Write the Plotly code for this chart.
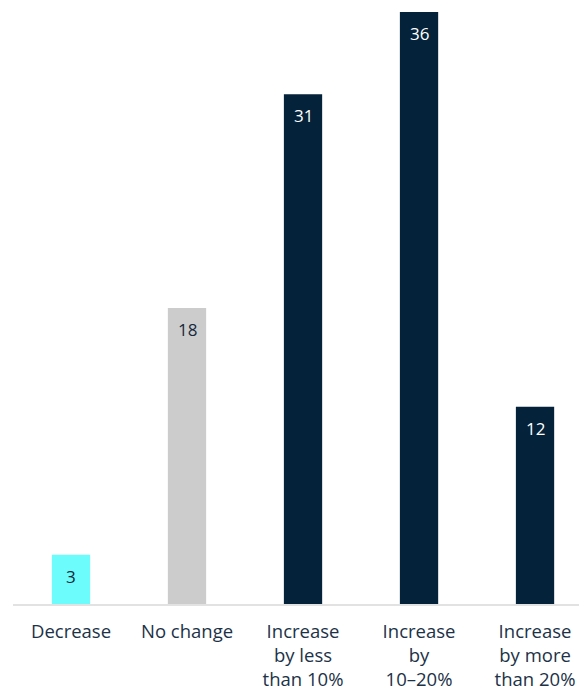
import plotly.graph_objects as go

categories = ["Decrease", "No change", "Increase<br>by less<br>than 10%",
              "Increase<br>by<br>10–20%", "Increase<br>by more<br>than 20%"]
values = [3, 18, 31, 36, 12]
bar_colors = ["#6cfcfc", "#cccccc", "#04223a", "#04223a", "#04223a"]
label_colors = ["#16293d", "#16293d", "#ffffff", "#ffffff", "#ffffff"]

x_pos = list(range(len(categories)))

fig = go.Figure(
    go.Bar(
        x=x_pos,
        y=values,
        width=0.33,
        marker=dict(color=bar_colors, line=dict(width=0)),
        hoverinfo="skip",
    )
)

# value labels sit just inside the top of each bar
for xi, v, c in zip(x_pos, values, label_colors):
    fig.add_annotation(
        x=xi, y=v, text=str(v), showarrow=False,
        yanchor="top", yshift=-8,
        font=dict(size=17, family="Open Sans", color=c),
    )

fig.update_layout(
    width=579,
    height=692,
    margin=dict(l=13, r=0, t=12, b=88),
    paper_bgcolor="white",
    plot_bgcolor="white",
    showlegend=False,
    font=dict(family="Open Sans", color="#1c3247"),
)

fig.update_xaxes(
    tickmode="array",
    tickvals=x_pos,
    ticktext=categories,
    range=[-0.5, 4.379],
    automargin=False,
    showgrid=False,
    zeroline=False,
    showline=True,
    linecolor="#e2e2e2",
    linewidth=2,
    ticks="outside",
    ticklen=10,
    tickcolor="rgba(0,0,0,0)",
    tickfont=dict(size=18.5, family="Open Sans", color="#1c3247"),
)

fig.update_yaxes(
    range=[0, 36],
    visible=False,
    showgrid=False,
    zeroline=False,
)

fig.write_html("out.html")
